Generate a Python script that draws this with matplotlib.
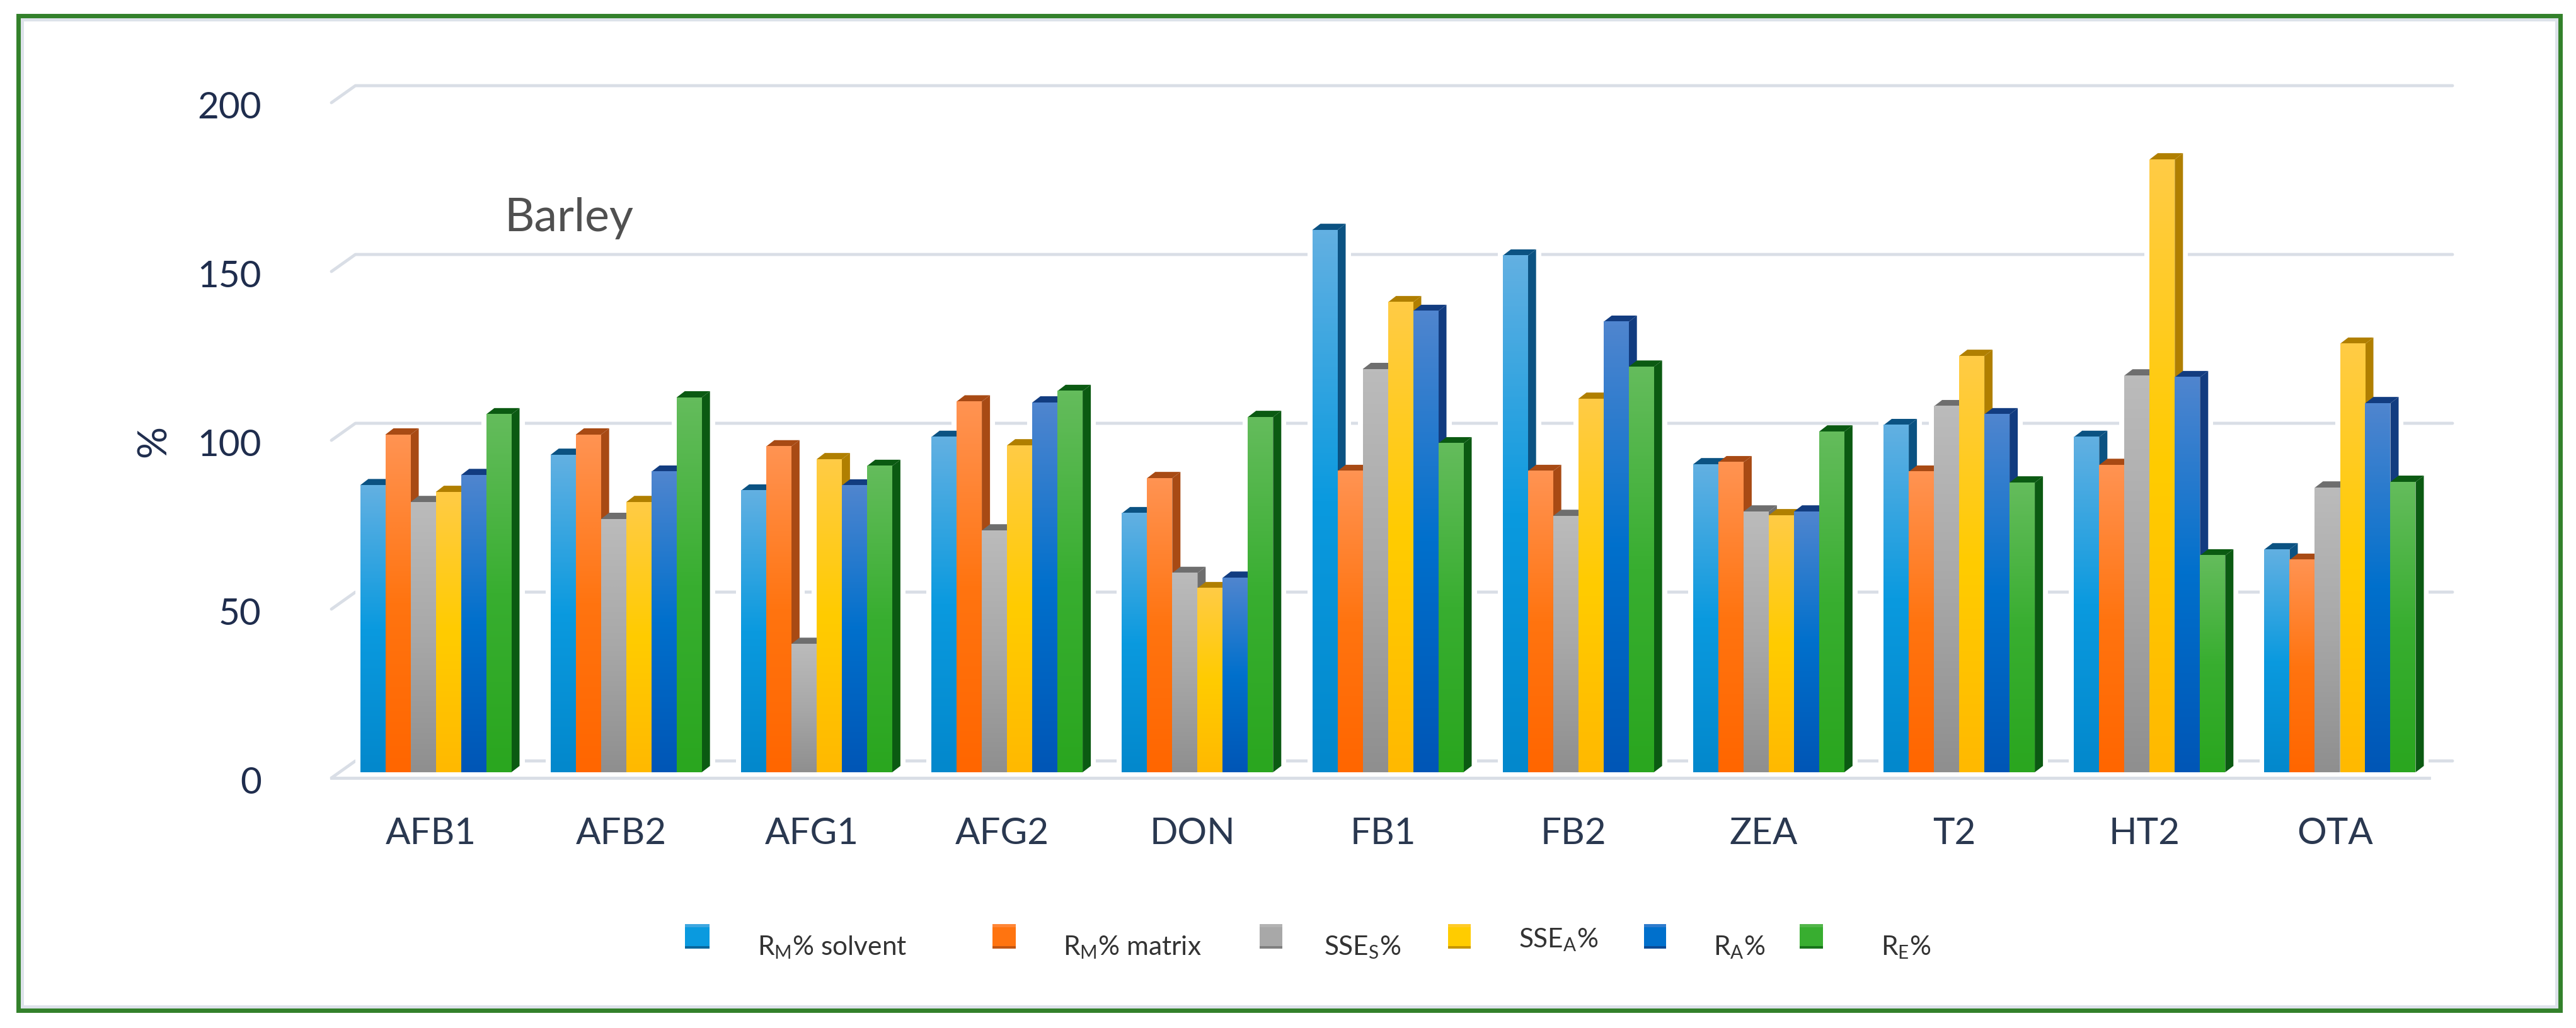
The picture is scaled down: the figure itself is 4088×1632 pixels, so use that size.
import numpy as np
import matplotlib
matplotlib.use('Agg')
import matplotlib.pyplot as plt
from matplotlib.colors import LinearSegmentedColormap
from matplotlib.patches import Polygon, Rectangle
from matplotlib.transforms import ScaledTranslation

plt.rcParams['font.family'] = ['Lato', 'DejaVu Sans']
plt.rcParams['mathtext.fontset'] = 'custom'
plt.rcParams['mathtext.rm'] = 'Lato'

# Values
compounds = ['AFB1', 'AFB2', 'AFG1', 'AFG2', 'DON', 'FB1', 'FB2', 'ZEA', 'T2', 'HT2', 'OTA']
rm_solvent = [85, 94, 83.4, 99.3, 76.7, 160.6, 153, 91.2, 102.8, 99.3, 66]
rm_matrix = [100, 100, 96.5, 109.8, 87.1, 89.2, 89.2, 91.8, 89, 91, 62.9]
sse_s = [80, 75, 38, 71.6, 59, 119.4, 75.9, 77.2, 108.4, 117.5, 84.3]
sse_a = [83, 80, 92.7, 96.8, 54.5, 139.2, 110.6, 76.1, 123.3, 181.5, 126.9]
r_a = [88, 89, 84.9, 109.5, 57.6, 136.6, 133.4, 77.2, 106, 117, 109.3]
r_e = [106, 111, 90.7, 112.9, 105.2, 97.4, 120.1, 100.9, 85.8, 64.2, 86]
series = [rm_solvent, rm_matrix, sse_s, sse_a, r_a, r_e]
series_labels = [r'R$_{\mathregular{M}}$% solvent', r'R$_{\mathregular{M}}$% matrix',
                 r'SSE$_{\mathregular{S}}$%', r'SSE$_{\mathregular{A}}$%',
                 r'R$_{\mathregular{A}}$%', r'R$_{\mathregular{E}}$%']
yticks = [0, 50, 100, 150, 200]

# top, middle, bottom of the front face, then the darker side colour
face_colors = [('#62B0E2', '#0A9ADF', '#0388CC', '#0B5282'),
               ('#FF9352', '#FF7410', '#FF6600', '#A84A14'),
               ('#BBBBBB', '#A8A8A8', '#8F8F8F', '#6E6E6E'),
               ('#FFCB45', '#FFCC00', '#FFB900', '#B07F00'),
               ('#4F85CF', '#0070CC', '#0056B6', '#123C80'),
               ('#64BC5C', '#38AE30', '#2AA61F', '#0B5A12')]

W, H = 4088, 1633
fig = plt.figure(figsize=(W / 100, H / 100), dpi=100, facecolor='white')


def px(x, y):
    return x / W, 1 - y / H


# axes box in pixels of the picture
left, right, top, bottom = 526, 3892, 139, 1236
ax = fig.add_axes([left / W, 1 - bottom / H, (right - left) / W, (bottom - top) / H])

unit_x = 302.2     # pixels per group
unit_y = 5.36      # pixels per percent
first_x = 691.5    # pixel of the first group's centre
base_y = 1227      # pixel of value 0 on the front of the bars
bar_w = 40 / unit_x
dx = 13 / unit_x   # depth of the bars
dy = 10 / unit_y
halo = 8 / unit_x
grid_dx = 38 / unit_x
grid_low = -9 / unit_y
grid_high = 18 / unit_y
x_min = (left - first_x) / unit_x
x_max = (right - first_x) / unit_x
y_min = (base_y - bottom) / unit_y
y_max = (base_y - top) / unit_y

grid_color = '#D9DEE6'
for v in yticks:
    ax.plot([x_min, x_min + grid_dx, x_max], [v + grid_low, v + grid_high, v + grid_high],
            color=grid_color, lw=3.5, solid_capstyle='round', zorder=1, clip_on=False)
# floor, it stops short of the back wall on the right
ax.plot([x_min, (3855 - first_x) / unit_x], [grid_low, grid_low],
        color=grid_color, lw=3.5, zorder=1, clip_on=False)

x = np.arange(len(compounds))
gradient = np.linspace(0, 1, 128).reshape(-1, 1)
for j, values in enumerate(series):
    c_top, c_mid, c_bot, c_side = face_colors[j]
    cmap = LinearSegmentedColormap.from_list(f's{j}', [c_top, c_mid, c_bot])
    offset = (j - 2.5) * bar_w
    bars = ax.bar(x + offset, values, width=bar_w, color=c_mid, zorder=3 + 2 * j)
    for bar in bars:
        x0 = bar.get_x()
        x1 = x0 + bar.get_width()
        v = bar.get_height()
        # white gap the gridlines leave round each bar
        ax.add_patch(Rectangle((x0 - halo, 0), x1 - x0 + dx + 2 * halo, v + dy,
                               facecolor='white', edgecolor='none', zorder=1.5))
        ax.add_patch(Polygon([(x1, 0), (x1 + dx, dy), (x1 + dx, v + dy), (x1, v)],
                             closed=True, facecolor=c_side, edgecolor='none', zorder=2 + 2 * j))
        ax.add_patch(Polygon([(x0, v), (x0 + dx, v + dy), (x1 + dx, v + dy), (x1, v)],
                             closed=True, facecolor=c_side, edgecolor='none', zorder=2 + 2 * j))
        ax.imshow(gradient, extent=[x0, x1, 0, v], aspect='auto', cmap=cmap,
                  interpolation='bilinear', zorder=3 + 2 * j)

ax.set_xlim(x_min, x_max)
ax.set_ylim(y_min, y_max)
ax.patch.set_visible(False)
for s in ax.spines.values():
    s.set_visible(False)

ax.set_yticks(yticks)
ax.set_xticks(x)
ax.set_xticklabels(compounds, fontsize=42, color='#2A3850')
ax.tick_params(axis='both', length=0)
ax.tick_params(axis='x', pad=44)
ax.tick_params(axis='y', pad=80, labelsize=42, labelcolor='#1F2D4D')
# the tick labels line up with the front of the floor, the category names sit a little left
shift_y = ScaledTranslation(0, -12 / 100, fig.dpi_scale_trans)
for label in ax.get_yticklabels():
    label.set_transform(label.get_transform() + shift_y)
shift_x = ScaledTranslation(-8 / 100, 0, fig.dpi_scale_trans)
for label in ax.get_xticklabels():
    label.set_transform(label.get_transform() + shift_x)
ax.set_ylabel('%', fontsize=46, color='#1F2D4D')
ax.yaxis.set_label_coords((274 - left) / (right - left), (bottom - 701) / (bottom - top))

ax.text((800 - first_x) / unit_x, (base_y - 347) / unit_y, 'Barley', fontsize=53,
        color='#505050', va='center', ha='left', zorder=30)

# legend is spaced by hand in the original, so entries are placed one by one
marker_x = [1087, 1575, 1999, 2298, 2609, 2856]
marker_w = [39, 37, 36, 36, 35, 37]
text_x = [1202, 1687, 2101, 2410, 2719, 2985]
text_y = [1504, 1504, 1504, 1492, 1504, 1504]
for j in range(len(series)):
    x0, y0 = px(marker_x[j], 1507)
    w = marker_w[j] / W
    h = 39 / H
    fig.add_artist(Rectangle((x0, y0), w, h, transform=fig.transFigure,
                             facecolor=face_colors[j][1], edgecolor='none'))
    fig.add_artist(Rectangle((x0, y0), w, 4 / H, transform=fig.transFigure,
                             facecolor=face_colors[j][3], alpha=0.7, edgecolor='none'))
    fig.add_artist(Rectangle((x0, y0 + h - 5 / H), w, 5 / H, transform=fig.transFigure,
                             facecolor=face_colors[j][0], alpha=0.6, edgecolor='none'))
    tx, ty = px(text_x[j], text_y[j])
    fig.text(tx, ty, series_labels[j], fontsize=30.5, color='#333333', va='center', ha='left')

# frame round the whole chart
fx0, fy1 = px(29, 25.5)
fx1, fy0 = px(4063, 1604.5)
inset_x = 6 / W
inset_y = 6 / H
fig.add_artist(Rectangle((fx0 + inset_x, fy0 + inset_y), fx1 - fx0 - 2 * inset_x, fy1 - fy0 - 2 * inset_y,
                         transform=fig.transFigure, fill=False, edgecolor='#DDE2EA', lw=3.6))
fig.add_artist(Rectangle((fx0, fy0), fx1 - fx0, fy1 - fy0, transform=fig.transFigure,
                         fill=False, edgecolor='#33812B', lw=5, joinstyle='miter'))

fig.savefig('out.png', dpi=100)
